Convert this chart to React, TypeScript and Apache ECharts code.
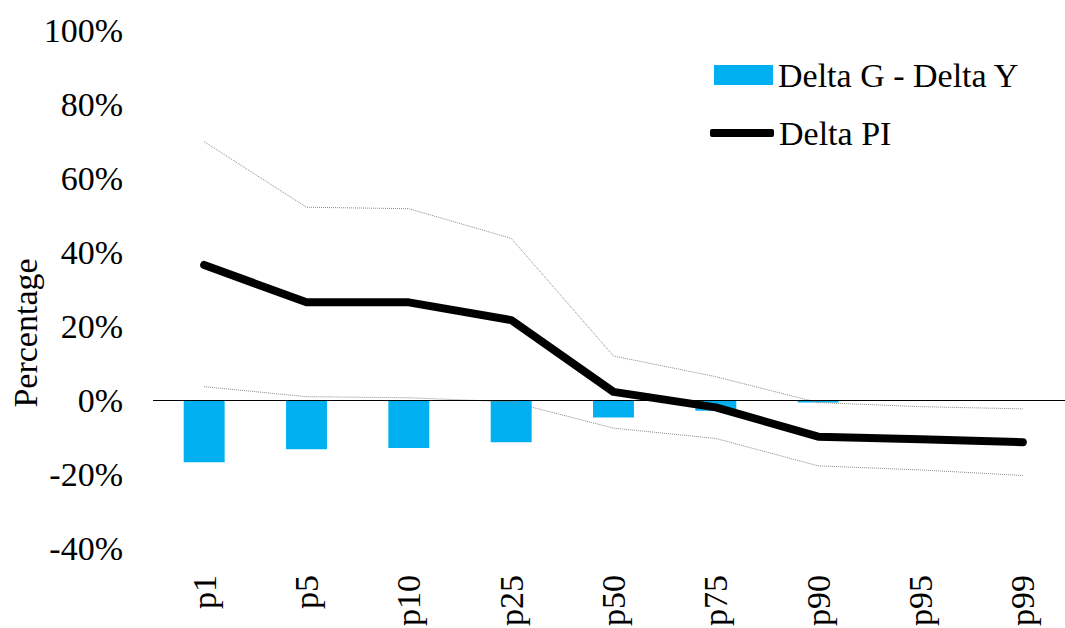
import React, { useEffect, useRef } from "react";
import * as echarts from "echarts";

const categories = ["p1", "p5", "p10", "p25", "p50", "p75", "p90", "p95", "p99"];
const deltaGY = [-16.8, -13.3, -13.0, -11.4, -4.7, -2.9, -0.7, -0.1, -0.1];
const deltaPI = [36.5, 26.4, 26.4, 21.6, 2.2, -2.0, -9.9, -10.6, -11.4];
const upperBound = [69.8, 52.1, 51.7, 43.7, 11.9, 6.3, -0.7, -1.8, -2.4];
const lowerBound = [3.6, 0.9, 0.6, -0.5, -7.6, -10.4, -17.8, -18.9, -20.4];

const FONT = "Liberation Serif, Times New Roman, serif";
const FS = 34;

export default function App() {
  const ref = useRef<HTMLDivElement>(null);
  useEffect(() => {
    if (!ref.current) return;
    const chart = echarts.init(ref.current, undefined, { renderer: "svg" });
    chart.setOption({
      animation: false,
      backgroundColor: "#ffffff",
      textStyle: { fontFamily: FONT, fontSize: FS, color: "#000" },
      grid: { left: 153, top: 30, bottom: 80, width: 921, containLabel: false, outerBoundsMode: "none" },
      legend: [
        {
          data: [{ name: "Delta G - Delta Y", icon: "rect" }],
          orient: "vertical",
          left: 714,
          top: 58,
          padding: 0,
          itemWidth: 59,
          itemHeight: 20,
          textStyle: { fontFamily: FONT, fontSize: FS, color: "#000" },
        },
        {
          data: [{ name: "Delta PI", icon: "roundRect", itemStyle: { color: "#000" } }],
          orient: "vertical",
          left: 710,
          top: 116,
          padding: 0,
          itemWidth: 64,
          itemHeight: 8,
          textStyle: { fontFamily: FONT, fontSize: FS, color: "#000" },
        },
      ],
      xAxis: {
        type: "category",
        data: categories,
        axisLine: { show: false, onZero: false },
        axisTick: { show: false },
        axisLabel: {
          rotate: 90,
          margin: 27,
          fontFamily: FONT,
          fontSize: FS,
          color: "#000",
        },
      },
      yAxis: {
        type: "value",
        min: -40,
        max: 100,
        interval: 20,
        axisLine: { show: false },
        axisTick: { show: false },
        splitLine: { show: false },
        axisLabel: {
          formatter: "{value}%",
          margin: 30,
          fontFamily: FONT,
          fontSize: FS,
          color: "#000",
        },
      },
      graphic: [
        {
          type: "text",
          x: 25,
          y: 333,
          rotation: Math.PI / 2,
          style: {
            text: "Percentage",
            fontFamily: FONT,
            fontSize: FS,
            fill: "#000",
            align: "center",
            verticalAlign: "middle",
          },
        },
      ],
      series: [
        {
          name: "Delta G - Delta Y",
          type: "bar",
          data: deltaGY,
          barWidth: "40%",
          itemStyle: { color: "#00B0F0" },
          markLine: {
            silent: true,
            symbol: "none",
            label: { show: false },
            lineStyle: { color: "#000", width: 1.2, type: "solid" },
            data: [{ yAxis: 0 }],
          },
        },
        {
          name: "Upper",
          type: "line",
          data: upperBound,
          symbol: "none",
          lineStyle: { color: "#8a8a8a", width: 1, type: "dotted" },
        },
        {
          name: "Lower",
          type: "line",
          data: lowerBound,
          symbol: "none",
          lineStyle: { color: "#8a8a8a", width: 1, type: "dotted" },
        },
        {
          name: "Delta PI",
          type: "line",
          data: deltaPI,
          symbol: "none",
          itemStyle: { color: "#000" },
          lineStyle: { color: "#000", width: 8, cap: "round", join: "round" },
          z: 5,
        },
      ],
    });
    return () => chart.dispose();
  }, []);
  return (
    <div
      ref={ref}
      style={{ position: "fixed", left: 0, top: 0, width: 1065, height: 628, background: "#fff" }}
    />
  );
}
